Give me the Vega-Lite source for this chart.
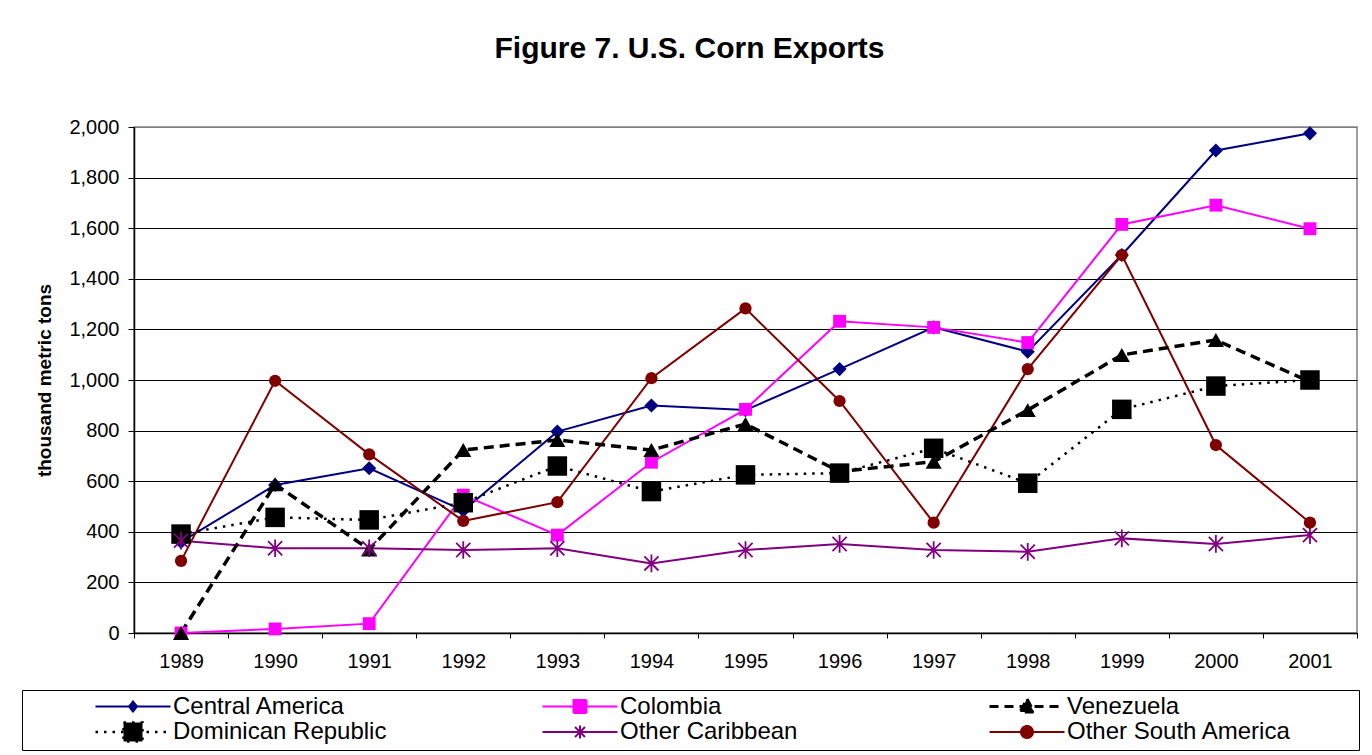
{
  "$schema": "https://vega.github.io/schema/vega-lite/v6.json",
  "width": 1223,
  "height": 506,
  "autosize": {"type": "none"},
  "padding": {"left": 134, "top": 127, "right": 15, "bottom": 122},
  "background": "white",
  "config": {
    "font": "Liberation Sans",
    "view": {"stroke": "#808080", "strokeWidth": 1.5}
  },
  "title": {
    "text": "Figure 7. U.S. Corn Exports",
    "fontSize": 30,
    "fontWeight": "bold",
    "font": "Liberation Sans",
    "color": "black",
    "anchor": "middle",
    "frame": "group",
    "baseline": "bottom",
    "dx": -56,
    "offset": 23
  },
  "data": {
    "values": [
      {"year": "1989", "series": "Central America", "value": 360},
      {"year": "1990", "series": "Central America", "value": 585},
      {"year": "1991", "series": "Central America", "value": 651},
      {"year": "1992", "series": "Central America", "value": 484},
      {"year": "1993", "series": "Central America", "value": 796},
      {"year": "1994", "series": "Central America", "value": 899},
      {"year": "1995", "series": "Central America", "value": 881},
      {"year": "1996", "series": "Central America", "value": 1043},
      {"year": "1997", "series": "Central America", "value": 1208},
      {"year": "1998", "series": "Central America", "value": 1112},
      {"year": "1999", "series": "Central America", "value": 1494},
      {"year": "2000", "series": "Central America", "value": 1907},
      {"year": "2001", "series": "Central America", "value": 1975},
      {"year": "1989", "series": "Colombia", "value": 0},
      {"year": "1990", "series": "Colombia", "value": 16},
      {"year": "1991", "series": "Colombia", "value": 37},
      {"year": "1992", "series": "Colombia", "value": 545},
      {"year": "1993", "series": "Colombia", "value": 387},
      {"year": "1994", "series": "Colombia", "value": 675},
      {"year": "1995", "series": "Colombia", "value": 884},
      {"year": "1996", "series": "Colombia", "value": 1232},
      {"year": "1997", "series": "Colombia", "value": 1208},
      {"year": "1998", "series": "Colombia", "value": 1148},
      {"year": "1999", "series": "Colombia", "value": 1615},
      {"year": "2000", "series": "Colombia", "value": 1691},
      {"year": "2001", "series": "Colombia", "value": 1598},
      {"year": "1989", "series": "Venezuela", "value": 0},
      {"year": "1990", "series": "Venezuela", "value": 588},
      {"year": "1991", "series": "Venezuela", "value": 330},
      {"year": "1992", "series": "Venezuela", "value": 723},
      {"year": "1993", "series": "Venezuela", "value": 763},
      {"year": "1994", "series": "Venezuela", "value": 723},
      {"year": "1995", "series": "Venezuela", "value": 826},
      {"year": "1996", "series": "Venezuela", "value": 638},
      {"year": "1997", "series": "Venezuela", "value": 677},
      {"year": "1998", "series": "Venezuela", "value": 881},
      {"year": "1999", "series": "Venezuela", "value": 1099},
      {"year": "2000", "series": "Venezuela", "value": 1158},
      {"year": "2001", "series": "Venezuela", "value": 993},
      {"year": "1989", "series": "Dominican Republic", "value": 391},
      {"year": "1990", "series": "Dominican Republic", "value": 457},
      {"year": "1991", "series": "Dominican Republic", "value": 447},
      {"year": "1992", "series": "Dominican Republic", "value": 515},
      {"year": "1993", "series": "Dominican Republic", "value": 660},
      {"year": "1994", "series": "Dominican Republic", "value": 559},
      {"year": "1995", "series": "Dominican Republic", "value": 625},
      {"year": "1996", "series": "Dominican Republic", "value": 632},
      {"year": "1997", "series": "Dominican Republic", "value": 730},
      {"year": "1998", "series": "Dominican Republic", "value": 592},
      {"year": "1999", "series": "Dominican Republic", "value": 884},
      {"year": "2000", "series": "Dominican Republic", "value": 976},
      {"year": "2001", "series": "Dominican Republic", "value": 1000},
      {"year": "1989", "series": "Other Caribbean", "value": 365},
      {"year": "1990", "series": "Other Caribbean", "value": 335},
      {"year": "1991", "series": "Other Caribbean", "value": 335},
      {"year": "1992", "series": "Other Caribbean", "value": 328},
      {"year": "1993", "series": "Other Caribbean", "value": 335},
      {"year": "1994", "series": "Other Caribbean", "value": 275},
      {"year": "1995", "series": "Other Caribbean", "value": 328},
      {"year": "1996", "series": "Other Caribbean", "value": 352},
      {"year": "1997", "series": "Other Caribbean", "value": 328},
      {"year": "1998", "series": "Other Caribbean", "value": 321},
      {"year": "1999", "series": "Other Caribbean", "value": 374},
      {"year": "2000", "series": "Other Caribbean", "value": 352},
      {"year": "2001", "series": "Other Caribbean", "value": 387},
      {"year": "1989", "series": "Other South America", "value": 285},
      {"year": "1990", "series": "Other South America", "value": 997},
      {"year": "1991", "series": "Other South America", "value": 706},
      {"year": "1992", "series": "Other South America", "value": 443},
      {"year": "1993", "series": "Other South America", "value": 517},
      {"year": "1994", "series": "Other South America", "value": 1007},
      {"year": "1995", "series": "Other South America", "value": 1283},
      {"year": "1996", "series": "Other South America", "value": 917},
      {"year": "1997", "series": "Other South America", "value": 436},
      {"year": "1998", "series": "Other South America", "value": 1043},
      {"year": "1999", "series": "Other South America", "value": 1494},
      {"year": "2000", "series": "Other South America", "value": 743},
      {"year": "2001", "series": "Other South America", "value": 436}
    ]
  },
  "encoding": {
    "x": {
      "field": "year",
      "type": "ordinal",
      "scale": {"paddingInner": 0, "paddingOuter": 0},
      "axis": {
        "title": null,
        "labelAngle": 0,
        "labelFontSize": 20,
        "labelColor": "black",
        "labelPadding": 13,
        "tickBand": "extent",
        "tickSize": 5,
        "tickColor": "black",
        "domainColor": "black",
        "domainWidth": 1.5,
        "grid": false
      }
    },
    "y": {
      "field": "value",
      "type": "quantitative",
      "scale": {"domain": [0, 2000], "nice": false},
      "axis": {
        "title": "thousand metric tons",
        "titleFontSize": 19,
        "titleFontWeight": "bold",
        "titleColor": "black",
        "titlePadding": 14,
        "values": [0, 200, 400, 600, 800, 1000, 1200, 1400, 1600, 1800, 2000],
        "format": ",d",
        "labelFontSize": 20,
        "labelColor": "black",
        "labelPadding": 9,
        "tickSize": 6,
        "tickColor": "black",
        "domainColor": "black",
        "domainWidth": 1.5,
        "grid": true,
        "gridColor": {"condition": {"test": "datum.value === 2000", "value": "#808080"}, "value": "black"},
        "gridWidth": 1
      }
    },
    "color": {
      "field": "series",
      "type": "nominal",
      "scale": {
        "domain": ["Central America", "Colombia", "Venezuela", "Dominican Republic", "Other Caribbean", "Other South America"],
        "range": ["#000080", "#FF00FF", "#000000", "#000000", "#800080", "#800000"]
      },
      "legend": {
        "title": null,
        "orient": "none",
        "legendX": -112,
        "legendY": 563,
        "direction": "horizontal",
        "columns": 3,
        "gridAlign": "all",
        "strokeColor": "black",
        "fillColor": "white",
        "padding": 3,
        "labelFontSize": 24,
        "labelFont": "Liberation Sans",
        "labelColor": "black",
        "labelLimit": 600,
        "symbolSize": 100,
        "symbolOffset": 96,
        "labelOffset": 28,
        "columnPadding": 10,
        "rowPadding": -9,
        "encode": {
          "symbols": {
            "update": {
              "shape": {"signal": "datum.value === 'Central America' ? 'M-7.5,0H7.5M0,-1L0.8,0L0,1L-0.8,0Z' : datum.value === 'Colombia' ? 'M-7.5,0H7.5M-1.3,-1.3H1.3V1.3H-1.3Z' : datum.value === 'Venezuela' ? 'M-7.5,0H7.5M0,-1.5L1.4,1.1H-1.4Z' : datum.value === 'Dominican Republic' ? 'M-7.5,0H7.5M-1.9,-1.9H1.9V1.9H-1.9Z' : datum.value === 'Other Caribbean' ? 'M-7.5,0H7.5M-1,-1L1,1M-1,1L1,-1M0,-1.3V1.3' : 'M65,0M-7.5,0H7.5M1.2,0A1.2,1.2,0,1,1,-1.2,0A1.2,1.2,0,1,1,1.2,0Z'"},
              "strokeDash": {"signal": "datum.value === 'Venezuela' ? [9,6] : datum.value === 'Dominican Republic' ? [2.5,6] : [1,0]"},
              "strokeWidth": {"signal": "datum.value === 'Venezuela' ? 3 : datum.value === 'Dominican Republic' ? 2.5 : 2"},
              "size": {"value": 100},
              "opacity": {"value": 1},
              "fillOpacity": {"value": 1},
              "strokeOpacity": {"value": 1}
            }
          }
        }
      }
    }
  },
  "layer": [
    {
      "transform": [{"filter": "datum.series !== 'Venezuela' && datum.series !== 'Dominican Republic'"}],
      "mark": {"type": "line", "strokeWidth": 2}
    },
    {
      "transform": [{"filter": "datum.series === 'Venezuela'"}],
      "mark": {"type": "line", "strokeWidth": 3.5, "strokeDash": [10, 6]}
    },
    {
      "transform": [{"filter": "datum.series === 'Dominican Republic'"}],
      "mark": {"type": "line", "strokeWidth": 2.5, "strokeDash": [2.5, 6]}
    },
    {
      "transform": [{"filter": "datum.series === 'Central America'"}],
      "mark": {"type": "point", "filled": true, "opacity": 1, "shape": "diamond", "size": 200}
    },
    {
      "transform": [{"filter": "datum.series === 'Colombia'"}],
      "mark": {"type": "point", "filled": true, "opacity": 1, "shape": "square", "size": 165}
    },
    {
      "transform": [{"filter": "datum.series === 'Venezuela'"}],
      "mark": {"type": "point", "filled": true, "opacity": 1, "shape": "triangle-up", "size": 260}
    },
    {
      "transform": [{"filter": "datum.series === 'Dominican Republic'"}],
      "mark": {"type": "point", "filled": true, "opacity": 1, "shape": "square", "size": 380}
    },
    {
      "transform": [{"filter": "datum.series === 'Other Caribbean'"}],
      "mark": {"type": "point", "filled": false, "opacity": 1, "strokeWidth": 1.8, "shape": "M-1,-1L1,1M-1,1L1,-1M0,-1.25V1.25", "size": 200}
    },
    {
      "transform": [{"filter": "datum.series === 'Other South America'"}],
      "mark": {"type": "point", "filled": true, "opacity": 1, "shape": "circle", "size": 150}
    }
  ]
}
